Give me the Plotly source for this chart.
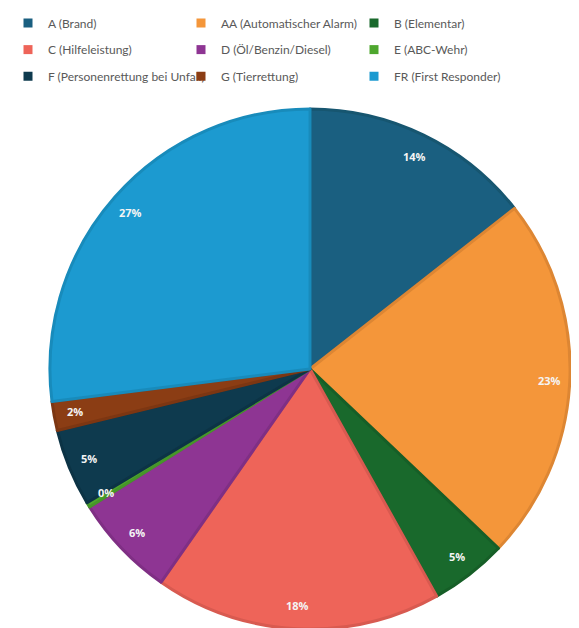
import math
import plotly.graph_objects as go

labels = ["A (Brand)", "AA (Automatischer Alarm)", "B (Elementar)",
          "C (Hilfeleistung)", "D (Öl/Benzin/Diesel)", "E (ABC-Wehr)",
          "F (Personenrettung bei Unfall)", "G (Tierrettung)", "FR (First Responder)"]
values = [14.4, 22.7, 4.8, 17.8, 6.4, 0.3, 4.8, 1.8, 27.0]
colors = ["#1a5f80", "#f4963a", "#19692c", "#ee6459", "#8e3593", "#4ea72e",
          "#0e3a4e", "#8b3d14", "#1c9ad0"]
borders = ["#175670", "#dd8633", "#165e27", "#d85a50", "#7f2f84", "#469629",
           "#0c3345", "#7c3612", "#188bbb"]

W, H = 579, 628
# pie placement in figure pixels
CX, CY, R = 302, 358, 263

fig = go.Figure()
fig.add_trace(go.Pie(
    labels=labels, values=values, sort=False, direction="clockwise", rotation=0,
    marker=dict(colors=colors, line=dict(color=borders, width=3)),
    textinfo="none", showlegend=False,
    domain=dict(x=[(CX - R) / W, (CX + R) / W],
                y=[max(0, 1 - (CY + R) / H), 1 - (CY - R) / H]),
    hoverinfo="label+percent",
))

# percentage labels near the rim, derived from the values
total = sum(values)
cum = 0.0
annotations = []
for v in values:
    mid = (cum + v / 2) / total * 2 * math.pi
    cum += v
    rr = 0.91 * R
    annotations.append(dict(
        x=(CX + rr * math.sin(mid)) / W, y=1 - (CY - rr * math.cos(mid)) / H,
        xref="paper", yref="paper", xanchor="center", yanchor="middle",
        showarrow=False,
        text=f"<b>{round(v / total * 100):.0f}%</b>",
        font=dict(color="#f4f4f4", size=11, family="Open Sans")))

# legend rows (three legends, one per row)
rows = [0, 0, 0, 1, 1, 1, 2, 2, 2]
legend_names = ["legend", "legend2", "legend3"]
for lab, col, row in zip(labels, colors, rows):
    fig.add_trace(go.Scatter(
        x=[None], y=[None], mode="markers", name=lab,
        marker=dict(symbol="square", size=9, color=col),
        legend=legend_names[row], showlegend=True, hoverinfo="skip"))

leg_common = dict(orientation="h", x=0.0, xanchor="left", yanchor="middle",
                  entrywidth=128, entrywidthmode="pixels",
                  font=dict(size=12, color="#595959", family="Lato"),
                  itemwidth=30, traceorder="normal", bgcolor="rgba(0,0,0,0)")
row_y = [8, 35, 62]
fig.update_layout(
    width=W, height=H,
    margin=dict(l=0, r=0, t=0, b=0),
    paper_bgcolor="white", plot_bgcolor="white",
    xaxis=dict(visible=False), yaxis=dict(visible=False),
    annotations=annotations,
    legend=dict(leg_common, y=1 - row_y[0] / H),
    legend2=dict(leg_common, y=1 - row_y[1] / H),
    legend3=dict(leg_common, y=1 - row_y[2] / H),
)
fig.write_html("out.html")
